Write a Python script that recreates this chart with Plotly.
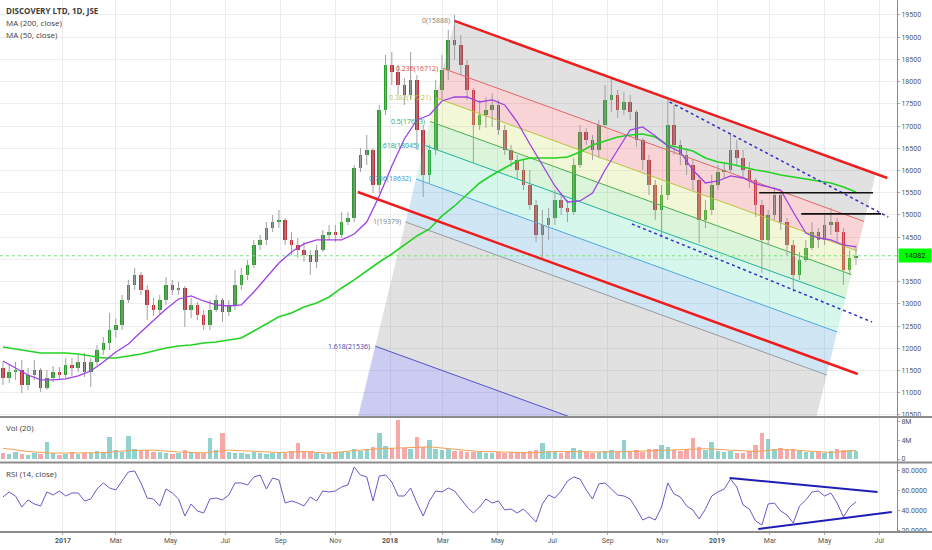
import pandas as pd
import plotly.graph_objects as go
from plotly.subplots import make_subplots

# Weekly bars (mid-week dates)
week_dates = pd.date_range("2016-10-26", periods=137, freq="7D")

opens = [
    11558, 11332, 11468, 11512, 11175, 11400, 11512, 11108, 11332, 11468,
    11400, 11625, 11558, 11692, 11468, 11692, 11962, 12120, 12412, 12525,
    13088, 13425, 13650, 13312, 12975, 12862, 13088, 13425, 13312, 13358,
    12862, 12975, 12750, 12525, 12862, 13088, 12818, 12975, 13425, 13650,
    13875, 14325, 14438, 14708, 14842, 14888, 14438, 14325, 14212, 14100,
    13942, 14212, 14550, 14618, 14550, 14842, 14932, 16058, 16350, 16462,
    15675, 17362, 18375, 18218, 17925, 17700, 18038, 16912, 15900, 16462,
    17812, 18262, 18938, 18825, 18375, 17812, 17025, 17250, 17362, 17475,
    16912, 16462, 16238, 16012, 15675, 15225, 14550, 14775, 14932, 15338,
    15158, 15068, 16125, 16868, 16688, 16462, 17025, 17588, 17700, 17362,
    17542, 17318, 16688, 16238, 15675, 15112, 15450, 17025, 16575, 16350,
    16125, 15788, 14888, 15112, 15675, 15968, 16012, 16462, 16282, 16012,
    15788, 15225, 14438, 15000, 15450, 14842, 14325, 13650, 13988, 14258,
    14618, 14438, 14775, 14842, 14618, 13762, 14032,
]
highs = [
    11692, 11625, 11692, 11738, 11558, 11738, 11558, 11512, 11602, 11580,
    11782, 11782, 11850, 11895, 11782, 12075, 12255, 12795, 12682, 13200,
    13538, 13808, 13718, 13425, 13132, 13200, 13605, 13538, 13492, 13402,
    13132, 13042, 12862, 13088, 13200, 13132, 13088, 13762, 13808, 13988,
    14438, 14550, 14842, 15000, 15112, 14932, 14618, 14482, 14392, 14212,
    14325, 14662, 14775, 14775, 15068, 15068, 16125, 16508, 16800, 16508,
    17475, 18600, 18667, 18375, 18082, 18667, 18150, 17025, 16575, 18038,
    18600, 19162, 19500, 19050, 18488, 17858, 17588, 17655, 17745, 17588,
    17025, 16575, 16350, 16238, 16012, 15338, 15112, 15158, 15562, 15450,
    15338, 16282, 17025, 16958, 16800, 17138, 17925, 18082, 17812, 17768,
    17700, 17362, 16732, 16350, 15788, 15675, 17588, 17475, 16688, 16508,
    16238, 15900, 15338, 15900, 16125, 16192, 16845, 16688, 16462, 16192,
    15832, 15338, 15112, 15630, 15518, 14932, 14438, 14168, 14438, 14842,
    14708, 15000, 15158, 14932, 14708, 14212, 14325,
]
lows = [
    11175, 11220, 11288, 10995, 11062, 11288, 11018, 11062, 11242, 11288,
    11332, 11378, 11468, 11355, 11130, 11625, 11850, 11962, 12232, 12412,
    13020, 13312, 13200, 12638, 12728, 12772, 12975, 13200, 13200, 12480,
    12682, 12638, 12412, 12412, 12818, 12592, 12728, 12862, 13312, 13538,
    13808, 14212, 14325, 14618, 14708, 14325, 14100, 14032, 13942, 13650,
    13808, 14168, 14438, 14392, 14482, 14775, 14842, 15968, 16125, 15495,
    15495, 17250, 17925, 17700, 17475, 17588, 16462, 15405, 15720, 16350,
    17588, 18038, 18488, 18150, 17588, 16170, 16912, 16958, 16980, 16800,
    16350, 16080, 15788, 15562, 15112, 14392, 13988, 14438, 14775, 15000,
    14842, 15000, 16058, 16575, 16238, 16282, 16958, 17318, 17182, 17250,
    17138, 16530, 16012, 15450, 14888, 14505, 15338, 16350, 16125, 15900,
    15562, 14370, 14708, 15000, 15562, 15832, 15968, 16125, 15832, 15608,
    14955, 13695, 14325, 14888, 14662, 14100, 13268, 13538, 13942, 14212,
    14258, 14325, 14550, 14370, 13425, 13650, 13875,
]
closes = [
    11332, 11468, 11512, 11175, 11400, 11512, 11108, 11332, 11468, 11400,
    11625, 11558, 11692, 11468, 11692, 11962, 12120, 12412, 12525, 13088,
    13425, 13650, 13312, 12975, 12862, 13088, 13425, 13312, 13358, 12862,
    12975, 12750, 12525, 12862, 13088, 12818, 12975, 13425, 13650, 13875,
    14325, 14438, 14708, 14842, 14888, 14438, 14325, 14212, 14100, 13942,
    14212, 14550, 14618, 14550, 14842, 14932, 16058, 16350, 16462, 15675,
    17362, 18375, 18218, 17925, 17700, 18038, 16912, 15900, 16462, 17812,
    18262, 18938, 18825, 18375, 17812, 17025, 17250, 17362, 17475, 16912,
    16462, 16238, 16012, 15675, 15225, 14550, 14775, 14932, 15338, 15158,
    15068, 16125, 16868, 16688, 16462, 17025, 17588, 17700, 17362, 17542,
    17318, 16688, 16238, 15675, 15112, 15450, 17025, 16575, 16350, 16125,
    15788, 14888, 15112, 15675, 15968, 16012, 16462, 16282, 16012, 15788,
    15225, 14438, 15000, 15450, 14842, 14325, 13650, 13988, 14258, 14618,
    14438, 14775, 14842, 14618, 13762, 14032, 14082,
]

# volume in millions
volumes = [
    1.2, 1.0, 1.4, 1.1, 0.9, 1.3, 1.1, 3.6, 1.2, 0.9,
    1.0, 1.5, 1.1, 1.3, 1.2, 1.7, 1.4, 4.7, 1.9, 1.6,
    4.9, 2.2, 1.8, 2.0, 1.4, 1.6, 1.3, 1.1, 1.2, 1.9,
    1.5, 1.3, 1.2, 4.6, 2.0, 5.6, 1.6, 1.2, 1.3, 1.1,
    1.5, 1.2, 1.0, 1.3, 1.4, 1.2, 1.8, 3.4, 1.5, 1.7,
    1.3, 1.1, 1.2, 1.5, 1.4, 1.6, 2.2, 1.8, 2.0, 2.5,
    5.6, 2.7, 2.3, 8.4, 2.4, 2.1, 4.7, 2.6, 4.1, 2.1,
    1.9, 2.2, 1.8, 1.7, 1.5, 1.6, 1.4, 1.3, 1.2, 1.4,
    1.3, 1.6, 1.5, 1.4, 1.7, 2.0, 3.4, 1.8, 1.5, 1.2,
    1.4, 2.4, 1.9, 1.6, 1.3, 1.5, 1.8, 2.0, 1.4, 4.1,
    1.6, 1.9, 1.5, 2.1, 2.2, 2.9, 2.5, 2.0, 1.7, 2.2,
    4.6, 2.6, 2.0, 3.7, 1.7, 1.4, 1.8, 1.3, 1.2, 1.8,
    3.0, 5.5, 4.2, 2.2, 2.4, 1.9, 2.1, 1.8, 1.4, 1.6,
    1.5, 1.3, 1.7, 2.2, 1.9, 2.0, 1.7,
]
# Vol (20) average, every fourth week
vol_ma = [
    2.3, 1.6, 1.25, 1.3, 1.35, 1.8, 1.9, 1.5, 1.3, 1.9,
    1.7, 1.4, 1.6, 1.25, 1.8, 2.2, 2.4, 2.6, 2.1, 1.6,
    1.5, 1.3, 1.6, 1.5, 1.5, 1.6, 1.8, 2.1, 2.2, 1.9,
    1.6, 2.1, 1.7, 1.4, 1.8,
]

rsi = [
    54, 59, 55, 44, 51, 47, 45, 59, 56, 60,
    55, 58, 58, 50, 52, 62, 68, 63, 61, 70,
    79, 80, 68, 53, 52, 45, 62, 58, 52, 35,
    47, 40, 38, 52, 53, 51, 56, 68, 68, 66,
    74, 76, 62, 73, 71, 48, 50, 48, 45, 54,
    50, 60, 59, 60, 64, 66, 84, 76, 74, 50,
    75, 76, 69, 55, 55, 63, 48, 35, 50, 60,
    59, 63, 60, 52, 44, 38, 44, 52, 48, 50,
    41, 42, 38, 42, 35, 29, 47, 56, 53, 60,
    70, 74, 72, 61, 52, 67, 68, 62, 56, 55,
    52, 42, 31, 34, 31, 44, 68, 57, 54, 45,
    41, 32, 42, 55, 59, 62, 72, 64, 46, 42,
    30, 26, 47, 48, 40, 36, 28, 45, 51, 59,
    60, 55, 58, 48, 34, 44, 49,
]

# moving averages, every second week
ma50 = [
    11715, 11558, 11400, 11288, 11288, 11310, 11378, 11490, 11692, 11918,
    12098, 12368, 12638, 12885, 13110, 13178, 13065, 12975, 12952, 12975,
    13268, 13582, 13920, 14168, 14348, 14438, 14438, 14438, 14572, 14842,
    15428, 16102, 16710, 17138, 17250, 17565, 17655, 17655, 17542, 17588,
    17475, 17092, 16598, 16125, 15652, 15292, 15315, 15495, 16012, 16462,
    16912, 16980, 16778, 16552, 16418, 16012, 15720, 15765, 15878, 15832,
    15698, 15630, 15562, 15068, 14595, 14482, 14438, 14325, 14280,
]
ma200 = [
    12030, 11985, 11940, 11895, 11895, 11895, 11872, 11828, 11782, 11782,
    11828, 11872, 11940, 12008, 12052, 12075, 12120, 12142, 12188, 12232,
    12390, 12548, 12708, 12795, 12930, 13020, 13155, 13358, 13538, 13740,
    13942, 14122, 14325, 14528, 14685, 14978, 15202, 15450, 15720, 15900,
    16058, 16215, 16282, 16282, 16282, 16305, 16418, 16575, 16665, 16755,
    16800, 16822, 16755, 16575, 16508, 16440, 16282, 16192, 16148, 16080,
    16012, 15968, 15900, 15855, 15810, 15765, 15720, 15630, 15518,
]
last_price = 14082

# x-axis ticks
tick_dates = ["2017-01-01", "2017-03-01", "2017-05-01", "2017-07-01", "2017-09-01",
              "2017-11-01", "2018-01-01", "2018-03-01", "2018-05-01", "2018-07-01",
              "2018-09-01", "2018-11-01", "2019-01-01", "2019-03-01", "2019-05-01",
              "2019-07-01"]
tick_labels = ["<b>2017</b>", "Mar", "May", "Jul", "Sep", "Nov", "<b>2018</b>", "Mar",
               "May", "Jul", "Sep", "Nov", "<b>2019</b>", "Mar", "May", "Jul"]
price_ticks = [p for p in range(10500, 20000, 500) if p != 14000]

# Fib channel: level 0 start/end anchors and the offset of level 1
fib_start = (pd.Timestamp("2018-03-14"), 19365)
fib_end = (pd.Timestamp("2019-06-27"), 15922)
fib_step = (-54.7, -4522)  # days, price for one full level
fib_levels = [0, 0.236, 0.382, 0.5, 0.618, 0.786, 1, 1.618, 2.618]
fib_labels = ["0(15888)", "0.236(16712)", "0.382(17221)", "0.5(17633)", "0.618(18045)",
              "0.786(18632)", "1(19379)", "1.618(21536)"]
fib_line_colors = ["#9e9e9e", "#e06666", "#bcc43c", "#4caf50", "#22b39a", "#4fa8de",
                   "#9a9a9a", "#5252c6"]
fib_label_colors = ["#808080", "#e04848", "#c2c23a", "#43a047", "#1f9e8c", "#3a90d0",
                    "#808080", "#4444b0"]
fib_fills = ["rgba(140,140,140,0.26)", "rgba(232,90,100,0.26)", "rgba(205,228,110,0.28)",
             "rgba(100,215,100,0.24)", "rgba(70,220,170,0.22)", "rgba(85,165,220,0.28)",
             "rgba(140,140,140,0.26)", "rgba(105,105,220,0.34)"]

# other drawings (date, price) pairs
channel_top = (["2018-03-14", "2019-07-10"], [19365, 15832])
channel_bottom = (["2017-11-26", "2019-06-07"], [15517, 11422])
trend_upper = (["2018-11-09", "2019-07-11"], [17542, 14955])
trend_lower = (["2018-09-28", "2019-06-23"], [14798, 12592])
resist_hi = (["2019-02-17", "2019-06-24"], [15500, 15500])
resist_lo = (["2019-04-05", "2019-07-03"], [15025, 15025])
rsi_upper = (["2019-01-15", "2019-06-29"], [73, 59])
rsi_lower = (["2019-02-16", "2019-07-15"], [22, 39])

GREEN = "#2a9a2a"
RED = "#c0303a"
FONT = "Open Sans, Arial, sans-serif"
AXIS_FONT = dict(size=7, color="#555555", family="Roboto, Arial, sans-serif")


def fib_point(anchor, f):
    return anchor[0] + pd.Timedelta(days=fib_step[0] * f), anchor[1] + fib_step[1] * f


fig = make_subplots(rows=3, cols=1, shared_xaxes=True, vertical_spacing=0.0)

# fib fills
for i, color in enumerate(fib_fills):
    s1, e1 = fib_point(fib_start, fib_levels[i]), fib_point(fib_end, fib_levels[i])
    s2, e2 = fib_point(fib_start, fib_levels[i + 1]), fib_point(fib_end, fib_levels[i + 1])
    fig.add_trace(go.Scatter(
        x=[s1[0], e1[0], e2[0], s2[0], s1[0]], y=[s1[1], e1[1], e2[1], s2[1], s1[1]],
        mode="lines", fill="toself", fillcolor=color, line=dict(width=0),
        hoverinfo="skip"), row=1, col=1)

# fib level lines and labels
for i, label in enumerate(fib_labels):
    s, e = fib_point(fib_start, fib_levels[i]), fib_point(fib_end, fib_levels[i])
    fig.add_trace(go.Scatter(x=[s[0], e[0]], y=[s[1], e[1]], mode="lines",
                             line=dict(color=fib_line_colors[i], width=1),
                             hoverinfo="skip"), row=1, col=1)
    fig.add_annotation(x=s[0], y=s[1], xref="x", yref="y", text=label, showarrow=False,
                       xanchor="right", yanchor="middle", xshift=-3,
                       font=dict(size=7, color=fib_label_colors[i], family=FONT))

# 14000 grid line (its label sits under the last-price box)
fig.add_hline(y=14000, row=1, col=1, line=dict(color="#ececec", width=1), layer="below")

# last price line
fig.add_trace(go.Scatter(x=[week_dates[0] - pd.Timedelta(days=10), pd.Timestamp("2019-07-25")],
                         y=[last_price, last_price], mode="lines",
                         line=dict(color="#7ee07e", width=1, dash="dot"),
                         hoverinfo="skip"), row=1, col=1)

# candles: wicks then bodies
wx, wy = [], []
for d, h, l in zip(week_dates, highs, lows):
    wx += [d, d, None]
    wy += [l, h, None]
fig.add_trace(go.Scatter(x=wx, y=wy, mode="lines", line=dict(color="#a0a0a0", width=1),
                         hoverinfo="skip"), row=1, col=1)
body_colors = [GREEN if c >= o else RED for o, c in zip(opens, closes)]
fig.add_trace(go.Bar(x=week_dates, y=[c - o for o, c in zip(opens, closes)], base=opens,
                     width=4.0 * 86400000, marker=dict(color=body_colors, line=dict(width=0)),
                     hoverinfo="skip"), row=1, col=1)

# moving averages
fig.add_trace(go.Scatter(x=week_dates[::2], y=ma200, mode="lines",
                         line=dict(color="#22d322", width=1.6), hoverinfo="skip"), row=1, col=1)
fig.add_trace(go.Scatter(x=week_dates[::2], y=ma50, mode="lines",
                         line=dict(color="#a040e0", width=1.3), hoverinfo="skip"), row=1, col=1)

# drawings
for pts, color, width, dash in [
    (trend_upper, "#3030c8", 1.5, "dot"),
    (trend_lower, "#3030c8", 1.5, "dot"),
    (resist_hi, "#111111", 1.6, "solid"),
    (resist_lo, "#111111", 1.6, "solid"),
    (channel_top, "#ee1c1c", 2.4, "solid"),
    (channel_bottom, "#ee1c1c", 2.4, "solid"),
]:
    fig.add_trace(go.Scatter(x=pts[0], y=pts[1], mode="lines",
                             line=dict(color=color, width=width, dash=dash),
                             hoverinfo="skip"), row=1, col=1)

# volume
vol_colors = ["rgba(38,166,154,0.5)" if c >= o else "rgba(239,83,80,0.5)"
              for o, c in zip(opens, closes)]
fig.add_trace(go.Bar(x=week_dates, y=volumes, width=5 * 86400000,
                     marker=dict(color=vol_colors, line=dict(width=0)),
                     hoverinfo="skip"), row=2, col=1)
fig.add_trace(go.Scatter(x=week_dates[::4], y=vol_ma, mode="lines",
                         line=dict(color="#f5a055", width=1), hoverinfo="skip"), row=2, col=1)

# RSI
fig.add_hrect(y0=30, y1=70, row=3, col=1, fillcolor="rgba(149,117,205,0.14)",
              line_width=0, layer="below")
for lvl in (30, 70):
    fig.add_hline(y=lvl, row=3, col=1, line=dict(color="#b0b0b0", width=1, dash="dash"),
                  layer="below")
fig.add_trace(go.Scatter(x=week_dates, y=rsi, mode="lines",
                         line=dict(color="#6f55c8", width=1), hoverinfo="skip"), row=3, col=1)
for pts in (rsi_upper, rsi_lower):
    fig.add_trace(go.Scatter(x=pts[0], y=pts[1], mode="lines",
                             line=dict(color="#1e1eb4", width=2), hoverinfo="skip"),
                  row=3, col=1)

# axes
fig.update_xaxes(range=["2016-10-22 17:00", "2019-07-20 19:00"], tickvals=tick_dates,
                 ticktext=tick_labels, showgrid=True, gridcolor="#ececec", gridwidth=1,
                 zeroline=False, tickfont=AXIS_FONT, showline=False)
fig.update_xaxes(row=3, col=1, ticks="outside", ticklen=2, tickcolor="#aaaaaa")
fig.update_yaxes(side="right", showgrid=True, gridcolor="#ececec", zeroline=False,
                 tickfont=AXIS_FONT, ticks="outside", ticklen=2, tickcolor="#aaaaaa",
                 showline=True, linecolor="#8a8a8a", linewidth=1)
fig.update_layout(
    yaxis=dict(domain=[0.2162, 1.0], range=[10455, 19837], tickvals=price_ticks,
               tickformat="d"),
    yaxis2=dict(domain=[0.1316, 0.2143], range=[-0.64, 8.78], tickvals=[0, 4, 8],
                ticktext=["0", "4M", "8M"], showgrid=False),
    yaxis3=dict(domain=[0.0, 0.1297], range=[19, 88], tickvals=[20, 40, 60, 80],
                ticktext=["20.0000", "40.0000", "60.0000", "80.0000"], showgrid=False),
)

# legend texts
texts = [
    ("<b>DISCOVERY LTD, 1D, JSE</b>", 0.979),
    ("MA (200, close)", 0.957),
    ("MA (50, close)", 0.936),
    ("Vol (20)", 0.1955),
    ("RSI (14, close)", 0.1109),
]
for txt, yy in texts:
    fig.add_annotation(x=0.005, y=yy, xref="paper", yref="paper", text=txt,
                       showarrow=False, xanchor="left", yanchor="middle",
                       font=dict(size=8, color="#3c3c3c", family=FONT))

# last price label
fig.add_annotation(x=1.0, y=last_price, xref="paper", yref="y", text=str(last_price),
                   showarrow=False, xanchor="left", yanchor="middle", xshift=1,
                   bgcolor="#00ff00", borderpad=2, width=28,
                   font=dict(size=7.5, color="#1a1a1a", family="Roboto, Arial, sans-serif"))

# pane separators
for yy in (0.2162, 0.1306, 0.0):
    fig.add_shape(type="line", xref="paper", yref="paper", x0=0, x1=1.04, y0=yy, y1=yy,
                  line=dict(color="#8c8c8c", width=2), layer="above")

fig.update_layout(
    width=932, height=550,
    margin=dict(l=0, r=35, t=0, b=18),
    paper_bgcolor="white", plot_bgcolor="white",
    showlegend=False, barmode="overlay", bargap=0,
    font=dict(family=FONT),
    hovermode=False,
)

fig.write_html("out.html", config={"displayModeBar": False},
               post_script="document.body.style.margin='0';")
